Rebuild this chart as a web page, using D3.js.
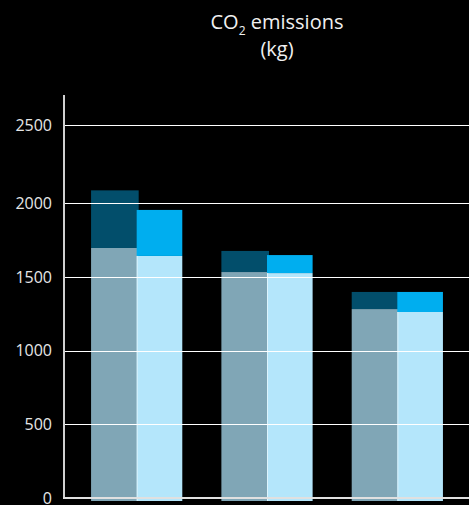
<!DOCTYPE html>
<html>
<head>
<meta charset="utf-8">
<script src="https://cdn.jsdelivr.net/npm/d3@7/dist/d3.min.js"></script>
<style>
  html, body { margin: 0; padding: 0; background: #000; }
  svg { display: block; }
</style>
</head>
<body>
<svg id="chart" width="469" height="505"></svg>
<script>
// ---- data ----
const categories = ["Option 1", "Option 2", "Option 3"];
const lowerA = [1695, 1532, 1281];   // light grey-blue segment
const upperA = [386, 143, 116];      // dark blue segment on top
const lowerB = [1641, 1525, 1261];   // light cyan segment
const upperB = [312, 122, 136];      // cyan segment on top
const tickValues = [0, 500, 1000, 1500, 2000, 2500];

// ---- layout ----
const svg = d3.select("#chart");
const W = 469, H = 505;
const left = 64, bottom = 498;

const y = d3.scaleLinear().domain([0, 2000, 2500]).range([bottom, 203, 125]);
const x0 = d3.scaleBand().domain(categories).range([65, 469]).paddingInner(0.3).paddingOuter(0.2);
const x1 = d3.scaleBand().domain(["A", "B"]).range([0, x0.bandwidth()]);

const colors = {
  lowerA: "#80a6b6", upperA: "#024e6b",
  lowerB: "#b4e6fb", upperB: "#00aeef"
};

// bars
const g = svg.append("g");
categories.forEach((c, i) => {
  const gx = x0(c);
  const series = [
    { key: "A", lower: lowerA[i], upper: upperA[i], cl: colors.lowerA, cu: colors.upperA, extra: 2 },
    { key: "B", lower: lowerB[i], upper: upperB[i], cl: colors.lowerB, cu: colors.upperB, extra: 0 }
  ];
  series.forEach(s => {
    const bx = gx + x1(s.key);
    const bw = x1.bandwidth() + s.extra;
    // lower segment
    g.append("rect")
      .attr("x", bx).attr("width", bw)
      .attr("y", y(s.lower))
      .attr("height", y(0) - y(s.lower) + 3)
      .attr("fill", s.cl);
    // upper segment
    g.append("rect")
      .attr("x", bx).attr("width", bw)
      .attr("y", y(s.lower + s.upper))
      .attr("height", y(s.lower) - y(s.lower + s.upper))
      .attr("fill", s.cu);
    if (s.key === "B") {
      g.append("line")
        .attr("x1", bx + 0.5).attr("x2", bx + 0.5)
        .attr("y1", y(s.lower)).attr("y2", y(0) + 3)
        .attr("stroke", "rgba(255,255,255,0.55)").attr("stroke-width", 1);
    }
  });
});

// gridlines (drawn over the bars)
svg.append("g")
  .selectAll("line")
  .data(tickValues.filter(d => d > 0))
  .join("line")
  .attr("x1", left + 1).attr("x2", W)
  .attr("y1", d => Math.round(y(d)) + 0.5).attr("y2", d => Math.round(y(d)) + 0.5)
  .attr("stroke", "#ffffff").attr("stroke-width", 1);

// axis lines
svg.append("line")
  .attr("x1", left).attr("x2", left)
  .attr("y1", 95).attr("y2", bottom + 1)
  .attr("stroke", "#d0d0d0").attr("stroke-width", 2);
svg.append("line")
  .attr("x1", left - 1).attr("x2", W)
  .attr("y1", bottom).attr("y2", bottom)
  .attr("stroke", "#e0e0e0").attr("stroke-width", 2);

// tick labels
svg.append("g")
  .selectAll("text")
  .data(tickValues)
  .join("text")
  .attr("x", 52)
  .attr("y", d => y(d))
  .attr("dy", "0.36em")
  .attr("text-anchor", "end")
  .attr("font-family", "'Open Sans', sans-serif")
  .attr("font-size", 16)
  .attr("fill", "#e6e6e6")
  .text(d => d);

// title
const title = svg.append("text")
  .attr("x", 277).attr("y", 29)
  .attr("text-anchor", "middle")
  .attr("font-family", "'Open Sans', sans-serif")
  .attr("font-size", 20)
  .attr("fill", "#f0f0f0");
title.append("tspan").text("CO");
title.append("tspan").attr("font-size", 12).attr("dy", 6).text("2");
title.append("tspan").attr("dy", -6).text(" emissions");

svg.append("text")
  .attr("x", 277).attr("y", 56)
  .attr("text-anchor", "middle")
  .attr("font-family", "'Open Sans', sans-serif")
  .attr("font-size", 20)
  .attr("fill", "#f0f0f0")
  .text("(kg)");
</script>
</body>
</html>
